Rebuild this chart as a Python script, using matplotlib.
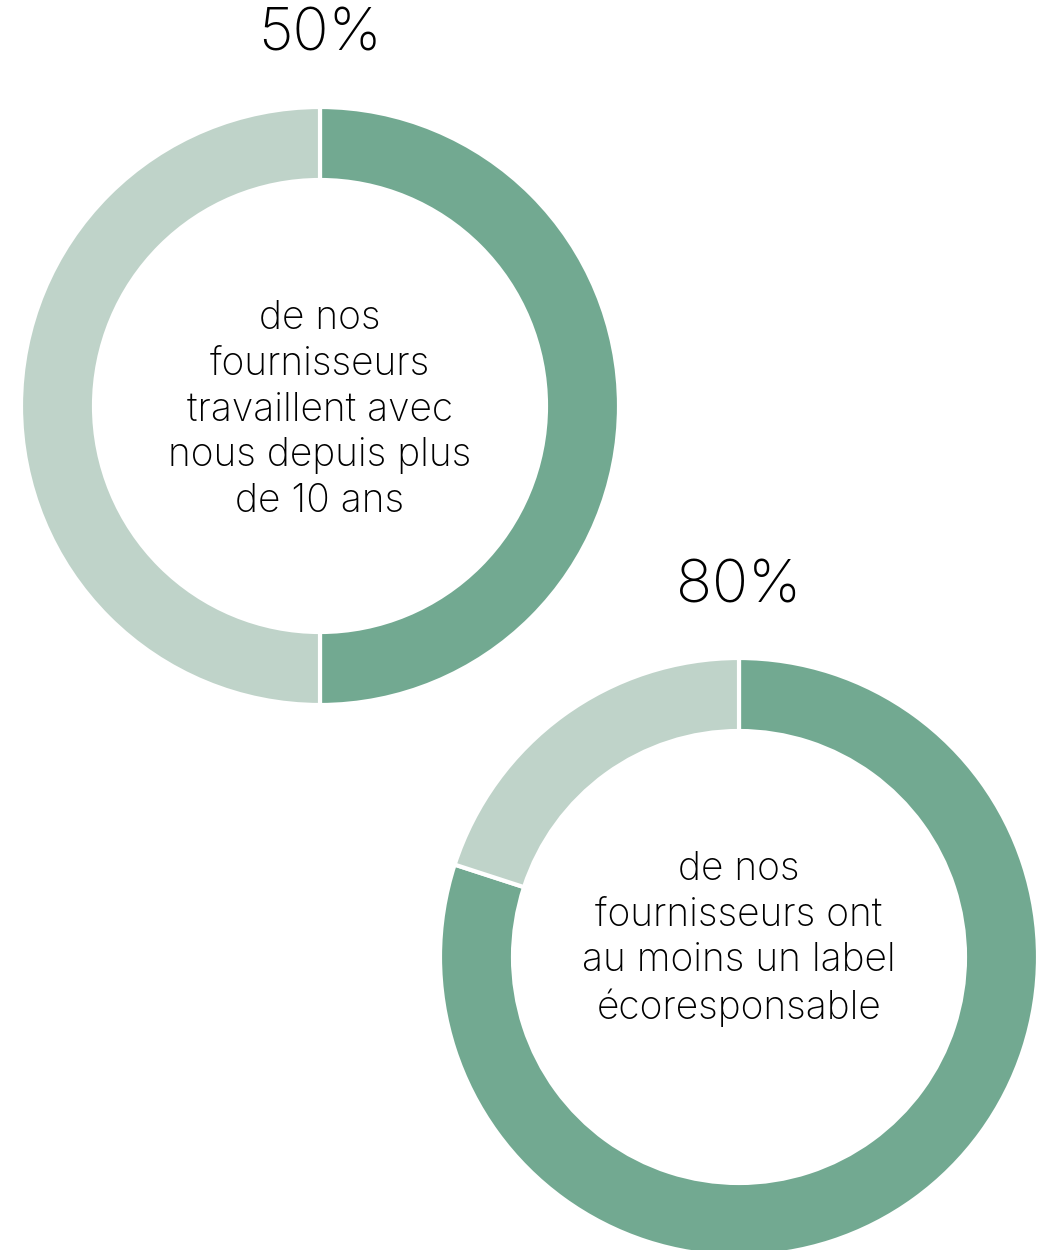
import matplotlib.pyplot as plt

# data
values_1 = [50, 50]
values_2 = [80, 20]
pct_labels = ["50%", "80%"]
captions = [
    "de nos\nfournisseurs\ntravaillent avec\nnous depuis plus\nde 10 ans",
    "de nos\nfournisseurs ont\nau moins un label\nécoresponsable",
]

dark = "#72a991"
light = "#bfd3c9"

W, H = 1048, 1250
fig = plt.figure(figsize=(W / 100, H / 100), dpi=100)
ax = fig.add_axes([0, 0, 1, 1])
ax.set_xlim(0, W)
ax.set_ylim(0, H)
ax.set_aspect("equal")
ax.axis("off")

font = dict(family=["Inter", "DejaVu Sans"], fontweight="light", color="#000000")

donuts = [
    (values_1, (320, H - 406), pct_labels[0], (320, H - 35), captions[0], (320, H - 410)),
    (values_2, (739, H - 957), pct_labels[1], (739, H - 587), captions[1], (739, H - 939)),
]

for vals, center, pct, pct_pos, cap, cap_pos in donuts:
    ax.pie(vals, colors=[dark, light], startangle=90, counterclock=False,
           center=center, radius=299, frame=True,
           wedgeprops=dict(width=73, edgecolor="white", linewidth=3))
    ax.text(*pct_pos, pct, ha="center", va="center", fontsize=43, **font)
    ax.text(*cap_pos, cap, ha="center", va="center", fontsize=28,
            linespacing=1.3, **font)

ax.set_xlim(0, W)
ax.set_ylim(0, H)
ax.axis("off")

fig.savefig("out.png", dpi=100)
